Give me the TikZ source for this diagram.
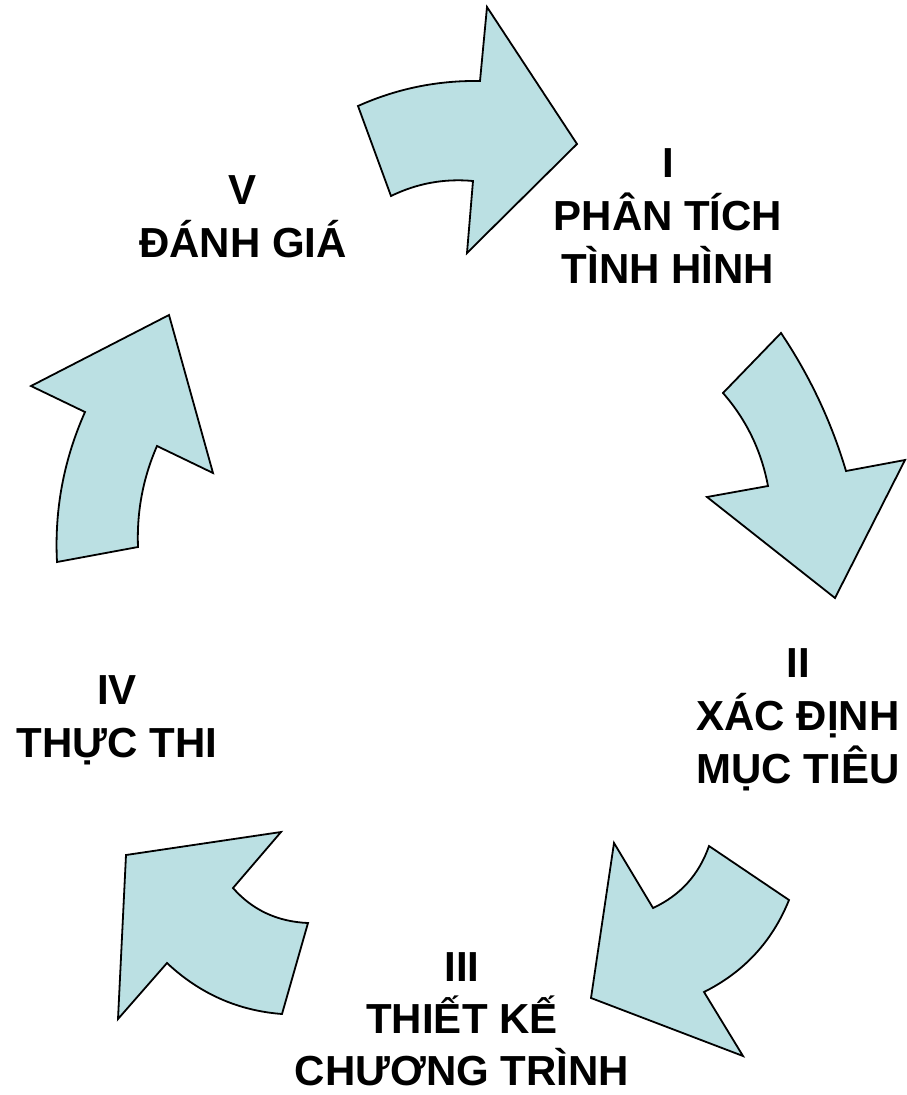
\documentclass[tikz,border=0pt]{standalone}
\usepackage{fontspec}
\setmainfont{Liberation Sans}
\usetikzlibrary{calc}
\definecolor{arrowfill}{RGB}{187,224,227}
\begin{document}
\begin{tikzpicture}[x=1pt,y=-1pt,
  blockarrow/.style={fill=arrowfill,draw=black,line width=1.8pt,line join=miter},
  lbl/.style={anchor=north,align=center,inner sep=0pt,font=\fontsize{42}{53}\selectfont\bfseries}]
\useasboundingbox (0,0) rectangle (906,1095);
% Arrow 1 (top, pointing right)
\draw[blockarrow] (358,106) .. controls ($(358,106)!0.6667!(416,80)$) and ($(480,81)!0.6667!(416,80)$) .. (480,81)
  -- (487,7) -- (577,144) -- (467,253) -- (473,181)
  .. controls ($(473,181)!0.6667!(430,177)$) and ($(391,196)!0.6667!(430,177)$) .. (391,196) -- cycle;
% Arrow 2 (right, pointing down)
\draw[blockarrow] (781,333) -- (723,393)
  .. controls ($(723,393)!0.6667!(758,433)$) and ($(768,486)!0.6667!(758,433)$) .. (768,486)
  -- (707,497) -- (835,598) -- (905,460) -- (846,471)
  .. controls ($(846,471)!0.6667!(824,397)$) and ($(781,333)!0.6667!(824,397)$) .. (781,333) -- cycle;
% Arrow 3 (bottom right, pointing down-left)
\draw[blockarrow] (614,843) -- (653,908)
  .. controls ($(653,908)!0.6667!(694,889)$) and ($(709,846)!0.6667!(694,889)$) .. (709,846)
  -- (789,900)
  .. controls ($(789,900)!0.6667!(764,962)$) and ($(704,992)!0.6667!(764,962)$) .. (704,992)
  -- (743,1056) -- (591,998) -- cycle;
% Arrow 4 (bottom left, pointing up-left)
\draw[blockarrow] (126,855) -- (281,832) -- (233,888)
  .. controls ($(233,888)!0.6667!(262,921)$) and ($(308,923)!0.6667!(262,921)$) .. (308,923)
  -- (282,1014)
  .. controls ($(282,1014)!0.6667!(216,1009)$) and ($(167,963)!0.6667!(216,1009)$) .. (167,963)
  -- (118,1019) -- cycle;
% Arrow 5 (left, pointing up)
\draw[blockarrow] (169,315) -- (31,386) -- (85,412)
  .. controls ($(85,412)!0.6667!(53,484)$) and ($(57,562)!0.6667!(53,484)$) .. (57,562)
  -- (138,547)
  .. controls ($(138,547)!0.6667!(136,494)$) and ($(157,446)!0.6667!(136,494)$) .. (157,446)
  -- (213,473) -- cycle;
% Labels
\node[lbl] (s1) at (668,148) {I\\PHÂN TÍCH\\TÌNH HÌNH};
\node[lbl] (s2) at (798,648) {II\\XÁC ĐỊNH\\MỤC TIÊU};
\node[lbl,font=\fontsize{42}{52}\selectfont\bfseries,text depth=0pt] (s3) at (462,952) {III\\THIẾT KẾ\\CHƯƠNG TRÌNH};
\node[lbl] (s4) at (117,675) {IV\\THỰC THI};
\node[lbl] (s5) at (243,175) {V\\ĐÁNH GIÁ};
\end{tikzpicture}
\end{document}
